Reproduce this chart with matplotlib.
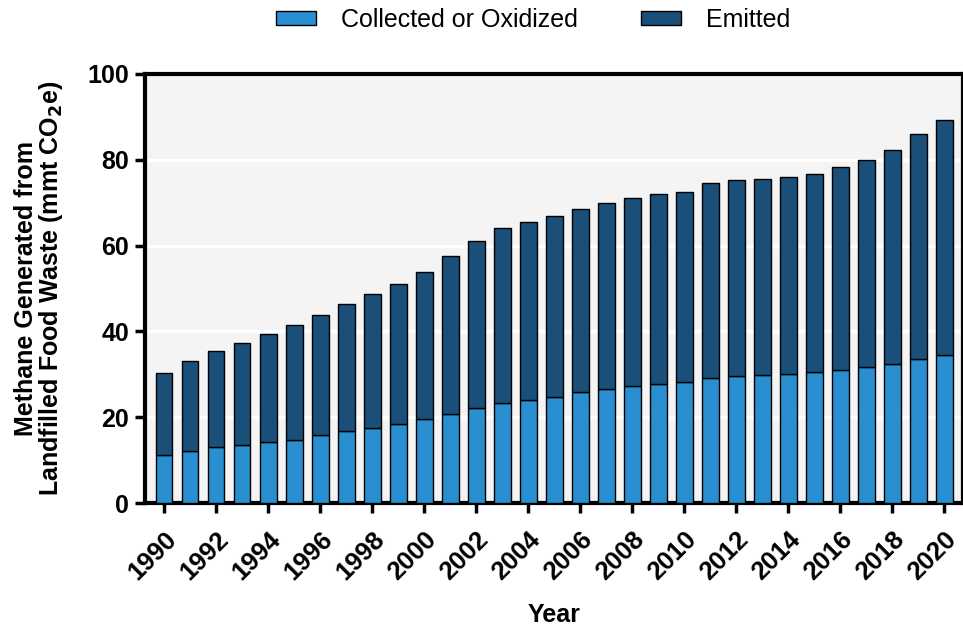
import matplotlib
matplotlib.use("Agg")
import matplotlib.pyplot as plt
import numpy as np

years = list(range(1990, 2021))
collected = [11.2, 12.1, 13.0, 13.6, 14.2, 14.8, 15.8, 16.8, 17.6, 18.5,
             19.5, 20.8, 22.2, 23.2, 24.0, 24.8, 25.8, 26.6, 27.3, 27.8,
             28.2, 29.1, 29.5, 29.8, 30.1, 30.5, 31.1, 31.8, 32.3, 33.5, 34.4]
total = [30.2, 33.0, 35.4, 37.2, 39.4, 41.5, 43.8, 46.5, 48.7, 51.0,
         53.8, 57.5, 61.0, 64.0, 65.4, 66.8, 68.5, 70.0, 71.2, 72.0,
         72.6, 74.5, 75.2, 75.6, 75.9, 76.7, 78.3, 80.0, 82.2, 86.0, 89.3]
emitted = [t - c for t, c in zip(total, collected)]

plt.rcParams['font.family'] = ['Liberation Sans', 'DejaVu Sans']

fig = plt.figure(figsize=(9.63, 6.29), dpi=100)
ax = fig.add_axes([0.1506, 0.2003, 0.8494, 0.6821])
ax.set_facecolor('#f4f4f4')

x = np.arange(len(years))
c_col = '#2a8fd0'
c_emi = '#1a4f7a'
ax.bar(x, collected, width=0.65, color=c_col, edgecolor='black', linewidth=1.0,
       label='Collected or Oxidized', zorder=3)
ax.bar(x, emitted, bottom=collected, width=0.65, color=c_emi, edgecolor='black',
       linewidth=1.0, label='Emitted', zorder=3)

ax.set_ylim(0, 100)
ax.set_xlim(-0.73, 30.72)
ax.set_yticks([0, 20, 40, 60, 80, 100])
ax.yaxis.grid(True, color='white', linewidth=2.5, zorder=0)
ax.set_axisbelow(True)

ax.set_xticks(x[::2])
ax.set_xticklabels([str(y) for y in years[::2]], rotation=45, ha='right',
                   rotation_mode='anchor', fontsize=18.5, fontweight='bold')
for lab in ax.get_yticklabels():
    lab.set_fontsize(18)
    lab.set_fontweight('bold')

for s in ax.spines.values():
    s.set_linewidth(3)
    s.set_color('black')
ax.tick_params(axis='both', width=2.5, length=7.5, color='black')
ax.tick_params(axis='x', pad=10)
ax.tick_params(axis='y', pad=4)

ax.set_xlabel('Year', fontsize=18, fontweight='bold', labelpad=13)
ax.set_ylabel('Methane Generated from\nLandfilled Food Waste (mmt CO$_\\mathbf{2}$e)',
              fontsize=18, fontweight='bold', labelpad=16, linespacing=0.95)

handles, labels = ax.get_legend_handles_labels()
fig.legend(handles, labels, loc='center', bbox_to_anchor=(533/963, 1 - 20/629),
           ncol=2, frameon=False, fontsize=18, handlelength=1.6, handleheight=0.5,
           columnspacing=2.5, handletextpad=1.0)

fig.savefig('out.png', dpi=100)
